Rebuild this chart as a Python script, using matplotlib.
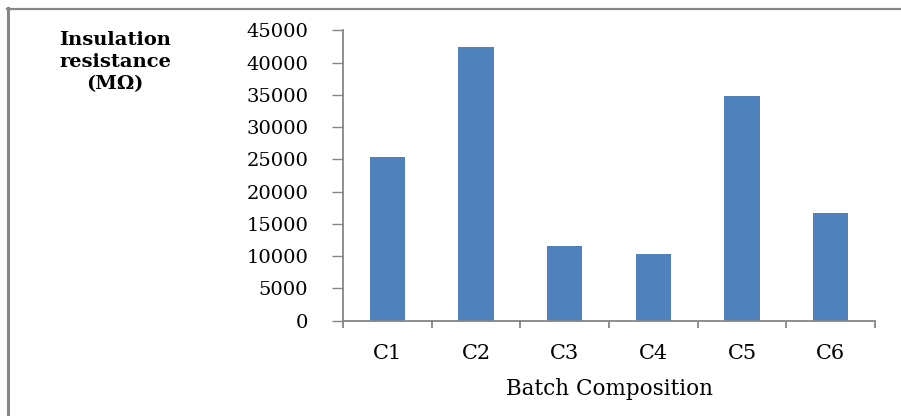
import matplotlib.pyplot as plt
from matplotlib.lines import Line2D
import numpy as np

batches = ["C1", "C2", "C3", "C4", "C5", "C6"]
resistance = [25400, 42400, 11550, 10300, 34800, 16700]
y_ticks = [0, 5000, 10000, 15000, 20000, 25000, 30000, 35000, 40000, 45000]

BAR_COLOR = "#4f81bd"
AXIS_COLOR = "#868686"
W, H = 901, 416

plt.rcParams["font.family"] = ["DejaVu Serif"]

fig = plt.figure(figsize=(W / 100, H / 100), dpi=100)
ax = fig.add_axes([343 / W, (H - 320.5) / H, 532 / W, 290.2 / H])

x = np.arange(len(batches))
ax.bar(x, resistance, width=0.4, color=BAR_COLOR, zorder=2)

ax.set_xlim(-0.5, len(batches) - 0.5)
ax.set_ylim(0, 45000)
ax.set_yticks(y_ticks)
ax.set_yticklabels([str(v) for v in y_ticks])

# category labels sit between the boundary ticks
ax.set_xticks(x)
ax.set_xticklabels(batches)
ax.set_xticks(np.arange(-0.5, len(batches)), minor=True)
ax.tick_params(axis="x", which="major", length=0, pad=17, labelsize=15)
ax.tick_params(axis="x", which="minor", length=5, width=1.3, color=AXIS_COLOR, direction="out")
ax.tick_params(axis="y", length=8, width=1.0, color=AXIS_COLOR, pad=17, labelsize=14)

for side in ("top", "right"):
    ax.spines[side].set_visible(False)
for side in ("left", "bottom"):
    ax.spines[side].set_color(AXIS_COLOR)
    ax.spines[side].set_linewidth(1.3)

ax.set_xlabel("Batch Composition", fontsize=15.5, labelpad=11)
fig.text(115 / W, 1 - 62 / H, "Insulation\nresistance\n(MΩ)", ha="center", va="center",
         fontsize=14, fontweight="bold", linespacing=1.3)

# outer chart frame, only its left and top edges fall inside the image
fig.add_artist(Line2D([7.5 / W, 7.5 / W], [0, 1 - 8 / H], color=AXIS_COLOR, linewidth=2.2,
                      transform=fig.transFigure))
fig.add_artist(Line2D([6.5 / W, 1], [1 - 9 / H, 1 - 9 / H], color=AXIS_COLOR, linewidth=1.6,
                      transform=fig.transFigure))

fig.savefig("out.png", dpi=100)
